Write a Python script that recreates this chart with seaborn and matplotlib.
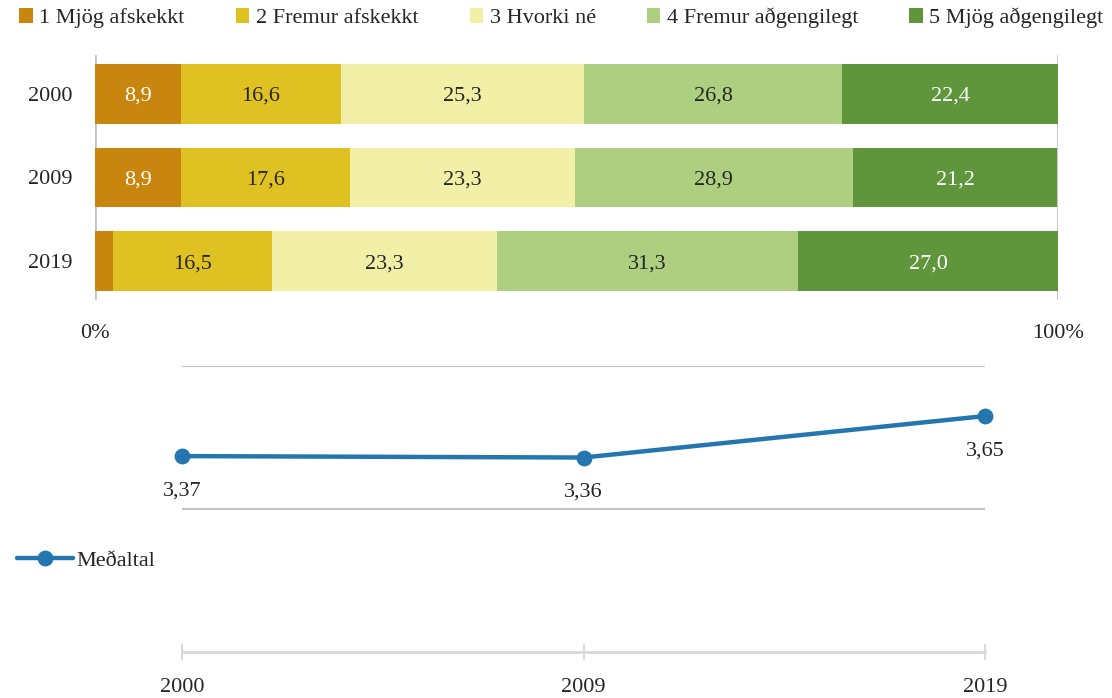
import numpy as np
import matplotlib
matplotlib.use("Agg")
import matplotlib.pyplot as plt
from matplotlib.patches import Patch
import seaborn as sns

# Data
years = ["2000", "2009", "2019"]
categories = [
    "1 Mjög afskekkt",
    "2 Fremur afskekkt",
    "3 Hvorki né",
    "4 Fremur aðgengilegt",
    "5 Mjög aðgengilegt",
]
very_remote = [8.9, 8.9, 1.9]
fairly_remote = [16.6, 17.6, 16.5]
neither = [25.3, 23.3, 23.3]
fairly_access = [26.8, 28.9, 31.3]
very_access = [22.4, 21.2, 27.0]
means = [3.37, 3.36, 3.65]

series = [very_remote, fairly_remote, neither, fairly_access, very_access]
colors = ["#C8860F", "#DFC221", "#F2EFA6", "#AECF7F", "#5F963B"]
text_colors = ["white", "#262626", "#262626", "#262626", "white"]
line_color = "#2476AF"
grid_color = "#C4C4C4"

sns.set_style("white")
plt.rcParams["font.family"] = ["Liberation Serif", "DejaVu Serif"]
plt.rcParams["text.color"] = "#262626"

W, H = 1112, 698
fig = plt.figure(figsize=(W / 100, H / 100), dpi=100)


def fig_rect(x0, y0, x1, y1):
    # pixel box (top-left origin) -> figure fraction rect
    return [x0 / W, 1 - y1 / H, (x1 - x0) / W, (y1 - y0) / H]


# ---- Top: stacked horizontal bars ----
ax = fig.add_axes(fig_rect(95, 55, 1058, 300))
cum = np.cumsum(np.array(series), axis=0)
# draw from the full stack down so each shorter one sits on top
for k in range(len(series) - 1, -1, -1):
    sns.barplot(
        x=cum[k], y=years, orient="h", color=colors[k], width=0.714,
        saturation=1, errorbar=None, linewidth=0, ax=ax,
    )
for k, vals in enumerate(series):
    for i, v in enumerate(vals):
        if v < 5:
            continue
        ax.text(cum[k][i] - v / 2, i, f"{v:.1f}".replace(".", ","),
                ha="center", va="center_baseline", fontsize=16,
                color=text_colors[k])

ax.set_xlim(0, 100)
ax.set_ylim(2.46, -0.46)
ax.set_xticks([0, 100])
ax.set_xticklabels(["0%", "100%"])
ax.set_xlabel("")
ax.set_ylabel("")
ax.tick_params(axis="both", length=0, labelsize=16, colors="#262626")
ax.tick_params(axis="x", pad=17)
ax.tick_params(axis="y", pad=16)
for s in ax.spines.values():
    s.set_visible(False)
ax.axvline(0, color=grid_color, lw=2, zorder=0)
ax.axvline(100, color=grid_color, lw=2, zorder=0)

handles = [Patch(facecolor=c, edgecolor="none") for c in colors]
fig.legend(handles, categories, ncol=5, loc="center",
           bbox_to_anchor=(0.505, 1 - 18 / H), frameon=False, fontsize=16,
           handlelength=0.6, handleheight=0.6, handletextpad=0.3,
           columnspacing=2.3, borderpad=0)

# ---- Bottom: average line ----
ax2 = fig.add_axes(fig_rect(182, 366, 985, 652))
sns.pointplot(x=years, y=means, color=line_color, markers="o",
              markersize=9, linewidth=3.2, errorbar=None,
              label="Meðaltal", ax=ax2)
for i, m in enumerate(means):
    ax2.annotate(f"{m:.2f}".replace(".", ","), (i, m), xytext=(0, -25),
                 textcoords="offset points", ha="center", va="center",
                 fontsize=16)
ax2.set_xlim(0, 2)
ax2.set_ylim(2, 4)
ax2.set_yticks([3, 4])
ax2.set_yticklabels([])
ax2.yaxis.grid(True, color=grid_color, lw=1.5)
ax2.set_axisbelow(True)
for s in ["top", "left", "right"]:
    ax2.spines[s].set_visible(False)
ax2.spines["bottom"].set_color("#D9D9D9")
ax2.spines["bottom"].set_linewidth(2)
ax2.tick_params(axis="y", length=0)
ax2.tick_params(axis="x", bottom=True, direction="inout", length=12,
                width=1.5, color="#D9D9D9", labelsize=16, pad=13,
                labelcolor="#262626")
ax2.set_xlabel("")
ax2.set_ylabel("")
for c in ax2.collections:
    c.set_clip_on(False)
for l in ax2.lines:
    l.set_clip_on(False)

ax2.legend(loc="center left", bbox_to_anchor=(17 / W, 1 - 561 / H),
           bbox_transform=fig.transFigure, frameon=False, fontsize=16,
           handlelength=2.5, handletextpad=0.15, borderpad=0, borderaxespad=0)

fig.savefig("out.png", dpi=100)
